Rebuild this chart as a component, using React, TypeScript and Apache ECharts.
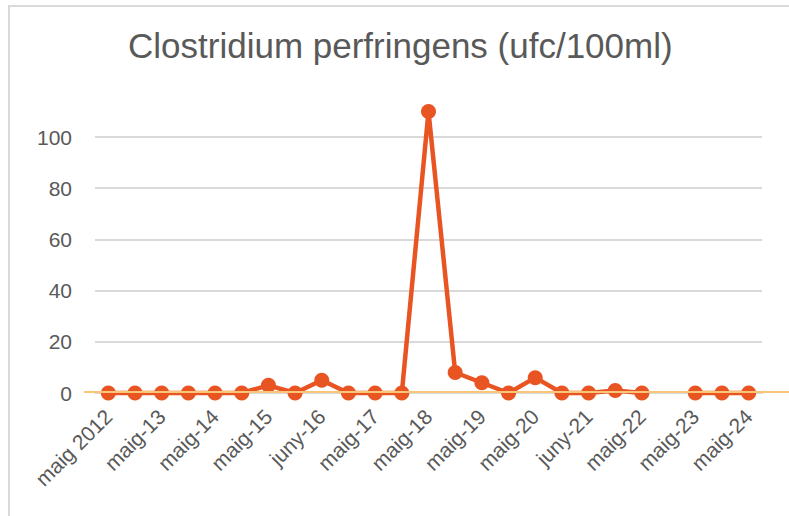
import React, { useEffect, useRef } from "react";
import * as echarts from "echarts";

const categories = [
  "maig 2012", "nov-12", "maig-13", "nov-13", "maig-14", "nov-14", "maig-15", "nov-15",
  "juny-16", "nov-16", "maig-17", "nov-17", "maig-18", "nov-18", "maig-19", "nov-19",
  "maig-20", "nov-20", "juny-21", "nov-21", "maig-22", "nov-22", "maig-23", "nov-23", "maig-24",
];
const values: (number | null)[] = [
  0, 0, 0, 0, 0, 0, 3, 0, 5, 0, 0, 0, 110, 8, 4, 0, 6, 0, 0, 1, 0, null, 0, 0, 0,
];
const yTicks = [0, 20, 40, 60, 80, 100];
const yMax = 110;
const title = "Clostridium perfringens (ufc/100ml)";

export default function App() {
  const ref = useRef<HTMLDivElement>(null);
  useEffect(() => {
    if (!ref.current) return;
    const chart = echarts.init(ref.current, undefined, { renderer: "svg" });
    const font = "Liberation Sans, Arial, sans-serif";
    chart.setOption({
      animation: false,
      backgroundColor: "#ffffff",
      title: {
        text: title,
        left: 128,
        top: 28,
        padding: 0,
        textStyle: { fontFamily: font, fontSize: 35, fontWeight: "normal", color: "#595959" },
      },
      grid: { left: 95, right: 27, top: 111.4, bottom: 123, containLabel: false },
      xAxis: {
        type: "category",
        data: categories,
        boundaryGap: true,
        axisLine: { show: true, lineStyle: { color: "#D9D9D9", width: 2 } },
        axisTick: { show: false },
        axisLabel: {
          interval: 1,
          rotate: 45,
          margin: 20,
          fontFamily: font,
          fontSize: 21,
          color: "#595959",
        },
      },
      yAxis: {
        type: "value",
        min: yTicks[0],
        max: yMax,
        interval: 20,
        axisLine: { show: false },
        axisTick: { show: false },
        axisLabel: {
          margin: 23,
          fontFamily: font,
          fontSize: 21,
          color: "#595959",
          showMaxLabel: false,
        },
        splitLine: { show: true, showMaxLine: false, lineStyle: { color: "#D9D9D9", width: 2 } },
      },
      series: [
        {
          type: "line",
          data: values,
          connectNulls: false,
          clip: false,
          symbol: "circle",
          symbolSize: 15,
          lineStyle: { color: "#E95423", width: 4.5 },
          itemStyle: { color: "#E95423" },
        },
      ],
    });
    const y0 = chart.convertToPixel({ yAxisIndex: 0 }, 0) as number;
    chart.setOption({
      graphic: [
        {
          type: "rect",
          shape: { x: 9, y: 6, width: 900, height: 600 },
          style: { fill: "none", stroke: "#D9D9D9", lineWidth: 2 },
          silent: true,
        },
        {
          type: "line",
          shape: { x1: 84, y1: y0 - 1, x2: 789, y2: y0 - 1 },
          style: { stroke: "#F9C677", lineWidth: 2 },
          z: 100,
          silent: true,
        },
      ],
    });
    return () => chart.dispose();
  }, []);
  return (
    <div
      ref={ref}
      style={{ position: "absolute", left: 0, top: 0, width: 789, height: 516 }}
    />
  );
}
